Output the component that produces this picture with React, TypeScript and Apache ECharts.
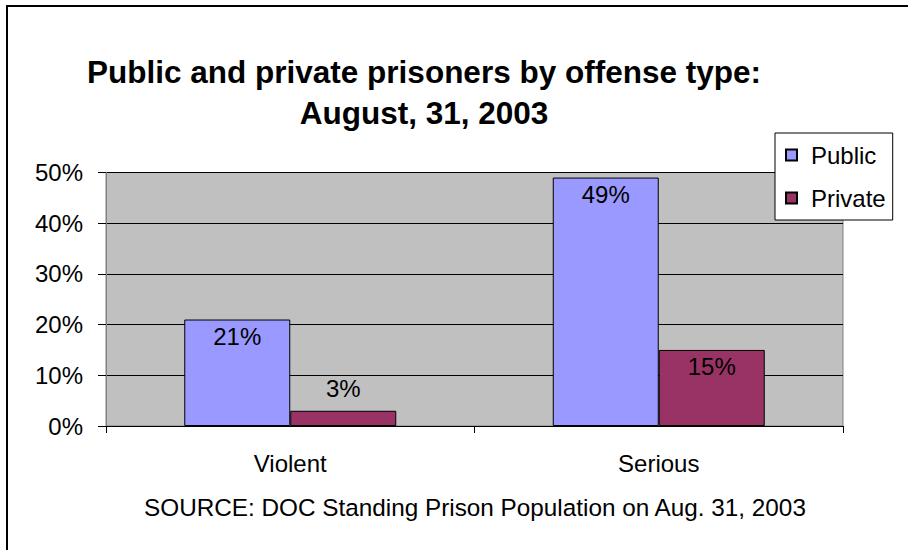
import React, { useEffect, useRef } from "react";
import * as echarts from "echarts";

const categories = ["Violent", "Serious"];
const seriesNames = ["Public", "Private"];
const publicValues = [21, 49];
const privateValues = [3, 15];
const yTicks = [0, 10, 20, 30, 40, 50];
const titleLines = ["Public and private prisoners by offense type:", "August, 31, 2003"];
const sourceText = "SOURCE: DOC Standing Prison Population on Aug. 31, 2003";

const FONT = "'Liberation Sans', Arial, Helvetica, sans-serif";

export default function App() {
  const ref = useRef<HTMLDivElement>(null);
  useEffect(() => {
    document.body.style.margin = "0";
    if (!ref.current) return;
    const chart = echarts.init(ref.current, null, { renderer: "svg" });
    const labelBase = {
      show: true,
      position: "insideTop" as const,
      distance: 5,
      color: "#000",
      fontSize: 24,
      fontFamily: FONT,
      formatter: "{c}%",
    };
    chart.setOption({
      animation: false,
      backgroundColor: "#ffffff",
      textStyle: { fontFamily: FONT },
      graphic: [
        {
          type: "rect",
          shape: { x: 7, y: 6, width: 1000, height: 1000 },
          style: { fill: "none", stroke: "#000", lineWidth: 2 },
          silent: true,
        },
        {
          type: "text",
          x: 424,
          y: 72,
          style: {
            text: titleLines[0],
            textAlign: "center",
            textVerticalAlign: "middle",
            font: `bold 31.5px ${FONT}`,
            fill: "#000",
          },
        },
        {
          type: "text",
          x: 424,
          y: 113,
          style: {
            text: titleLines[1],
            textAlign: "center",
            textVerticalAlign: "middle",
            font: `bold 31.5px ${FONT}`,
            fill: "#000",
          },
        },
        {
          type: "text",
          x: 475,
          y: 507,
          style: {
            text: sourceText,
            textAlign: "center",
            textVerticalAlign: "middle",
            font: `24.3px ${FONT}`,
            fill: "#000",
          },
        },
      ],
      legend: {
        data: seriesNames,
        orient: "vertical",
        left: 775,
        top: 133,
        padding: [10, 7, 10, 10],
        itemWidth: 11,
        itemHeight: 11,
        itemGap: 19,
        icon: "rect",
        backgroundColor: "#fff",
        borderColor: "#000",
        borderWidth: 1,
        borderRadius: 0,
        textStyle: { fontSize: 24, color: "#000", fontFamily: FONT, padding: [0, 0, 0, 9] },
      },
      grid: {
        left: 106,
        right: 65,
        top: 172.5,
        bottom: 124,
        show: true,
        backgroundColor: "#c0c0c0",
        borderColor: "#808080",
        borderWidth: 1,
        containLabel: false,
      },
      xAxis: {
        type: "category",
        data: categories,
        boundaryGap: true,
        axisLine: { show: true, lineStyle: { color: "#000", width: 1 } },
        axisTick: { show: true, alignWithLabel: false, length: 7, lineStyle: { color: "#000" } },
        axisLabel: { fontSize: 24, color: "#000", fontFamily: FONT, margin: 25 },
        splitLine: { show: false },
      },
      yAxis: {
        type: "value",
        min: yTicks[0],
        max: yTicks[yTicks.length - 1],
        interval: yTicks[1] - yTicks[0],
        axisLine: { show: true, lineStyle: { color: "#808080", width: 1 } },
        axisTick: { show: true, length: 8, lineStyle: { color: "#000" } },
        axisLabel: { fontSize: 24, color: "#000", fontFamily: FONT, margin: 23, formatter: "{value}%" },
        splitLine: { show: true, lineStyle: { color: "#000", width: 1 } },
      },
      series: [
        {
          name: seriesNames[0],
          type: "bar",
          data: publicValues,
          barWidth: 106,
          barGap: "0%",
          itemStyle: { color: "#9999ff", borderColor: "#000", borderWidth: 1 },
          label: labelBase,
        },
        {
          name: seriesNames[1],
          type: "bar",
          data: privateValues.map((v) =>
            v < 5
              ? { value: v, label: { position: "top", distance: 10 } }
              : { value: v }
          ),
          barWidth: 106,
          barGap: "0%",
          itemStyle: { color: "#993366", borderColor: "#000", borderWidth: 1 },
          label: labelBase,
        },
      ],
    });
    return () => chart.dispose();
  }, []);
  return <div ref={ref} style={{ width: 908, height: 550 }} />;
}
